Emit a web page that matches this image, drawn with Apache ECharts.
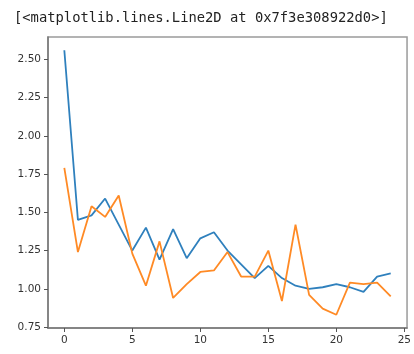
<!DOCTYPE html>
<html><head><meta charset="utf-8">
<script src="https://cdn.jsdelivr.net/npm/echarts@6/dist/echarts.min.js"></script>
<style>html,body{margin:0;padding:0;background:#fff}#c{width:414px;height:354px}</style>
</head><body><div id="c"></div>
<script>
const titleText = '[<matplotlib.lines.Line2D at 0x7f3e308922d0>]';
const xValues = [0,1,2,3,4,5,6,7,8,9,10,11,12,13,14,15,16,17,18,19,20,21,22,23,24];
const blueSeries = [2.56,1.45,1.48,1.59,1.42,1.25,1.40,1.19,1.39,1.20,1.33,1.37,1.25,1.16,1.07,1.15,1.07,1.02,1.00,1.01,1.03,1.01,0.98,1.08,1.10];
const orangeSeries = [1.79,1.24,1.54,1.47,1.61,1.23,1.02,1.31,0.94,1.03,1.11,1.12,1.24,1.08,1.08,1.25,0.92,1.42,0.96,0.87,0.83,1.04,1.03,1.04,0.95];
const xTicks = [0,5,10,15,20,25];
const yTicks = [0.75,1.00,1.25,1.50,1.75,2.00,2.25,2.50];

const chart = echarts.init(document.getElementById('c'), null, {renderer:'canvas'});
const pairs = a => xValues.map((x,i)=>[x,a[i]]);
const labelStyle = {color:'#333', fontFamily:'DejaVu Sans', fontSize:10.5};
chart.setOption({
  animation:false,
  title:{text:titleText, left:9, top:6, textStyle:{fontFamily:'DejaVu Sans Mono', fontSize:13.8, fontWeight:'normal', color:'#222'}},
  grid:{left:48, top:37, right:4, bottom:26, show:true, borderColor:'#9a9a9a', borderWidth:1.5, backgroundColor:'#fff'},
  xAxis:{type:'value', min:-1.2, max:25.2,
    axisLine:{show:true, onZero:false, lineStyle:{color:'#777', width:1.5}},
    axisTick:{show:true, length:4, customValues:xTicks, lineStyle:{color:'#555'}},
    axisLabel:Object.assign({customValues:xTicks, margin:7, formatter:v=>String(v)}, labelStyle),
    splitLine:{show:false}},
  yAxis:{type:'value', min:0.7435, max:2.6465,
    axisLine:{show:true, onZero:false, lineStyle:{color:'#777', width:1.5}},
    axisTick:{show:true, length:4, customValues:yTicks, lineStyle:{color:'#555'}},
    axisLabel:Object.assign({customValues:yTicks, margin:7, formatter:v=>v.toFixed(2)}, labelStyle),
    splitLine:{show:false}},
  series:[
    {type:'line', data:pairs(blueSeries), showSymbol:false, lineStyle:{color:'#2f80bd', width:1.8}, itemStyle:{color:'#2f80bd'}},
    {type:'line', data:pairs(orangeSeries), showSymbol:false, lineStyle:{color:'#ff8a25', width:1.8}, itemStyle:{color:'#ff8a25'}}
  ]
});
</script></body></html>
